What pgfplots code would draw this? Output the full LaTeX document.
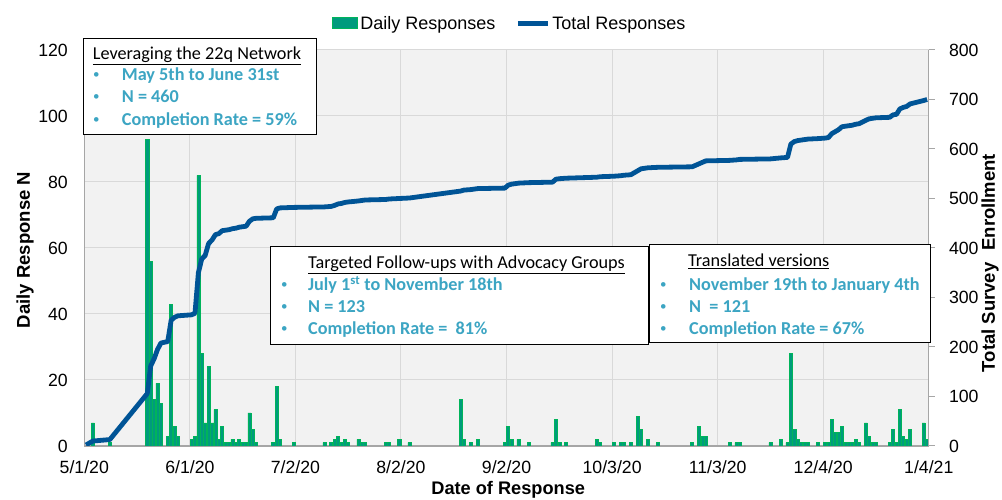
\documentclass[border=0pt]{standalone}
\usepackage{fontspec}
\setmainfont{Liberation Sans}
\newfontfamily\boxfont{Carlito}
\usepackage{pgfplots}
\usepackage{pgfplotstable}
\pgfplotsset{compat=1.18}

\definecolor{barfill}{RGB}{0,155,125}
\definecolor{baredge}{RGB}{0,180,90}
\definecolor{totalblue}{RGB}{0,84,150}
\definecolor{plotbg}{RGB}{242,242,242}
\definecolor{gridgray}{RGB}{217,217,217}
\definecolor{axisgray}{RGB}{166,166,166}
\definecolor{bulletcol}{RGB}{60,165,195}

\pgfplotsset{
  barlegend/.style={legend image code/.code={\draw[##1] (0pt,-5pt) rectangle (25pt,6pt);}},
  linelegend/.style={legend image code/.code={\draw[##1] (0pt,0pt) -- (30pt,0pt);}},
}

% day 0 = 5/1/20
\pgfplotstableread{
d n
2 7
7 1
18 93
19 56
20 14
21 19
22 13
24 3
25 43
26 6
27 3
31 2
32 3
33 82
34 28
35 7
36 24
37 7
38 11
39 2
40 6
41 1
42 1
43 2
44 1
45 2
46 1
47 1
48 10
49 5
50 1
55 1
56 18
57 2
61 1
70 1
72 1
73 2
74 3
75 1
76 2
77 1
80 2
81 1
82 1
88 1
89 1
92 2
95 1
110 14
111 2
113 1
115 2
123 1
124 6
125 2
127 2
130 1
137 1
138 8
139 1
141 1
150 2
151 1
155 1
157 1
158 1
160 1
162 9
163 5
165 2
168 1
178 1
180 6
181 3
182 3
189 1
191 1
192 1
201 1
204 2
206 1
207 28
208 5
209 2
210 1
211 1
212 1
215 1
217 1
218 1
219 8
220 4
221 4
222 6
223 1
224 1
225 1
226 2
227 1
229 7
230 3
231 1
232 1
236 1
237 5
238 1
239 11
240 3
241 2
242 5
246 7
247 2
}\daily

\pgfplotstableread{
d total
0 2
2 10
7 13
18 106
19 162
20 176
21 195
22 208
24 211
25 254
26 260
27 263
31 265
32 268
33 350
34 378
35 385
36 409
37 416
38 427
39 429
40 435
41 436
42 437
43 439
44 440
45 442
46 443
47 444
48 454
49 459
50 460
55 461
56 479
57 481
61 482
70 483
72 484
73 486
74 489
75 490
76 492
77 493
80 495
81 496
82 497
88 498
89 499
92 500
95 501
110 515
111 517
113 518
115 520
123 521
124 527
125 529
127 531
130 532
137 533
138 539
139 540
141 541
150 543
151 544
155 545
157 546
158 547
160 548
162 556
163 560
165 562
168 563
178 564
180 570
181 573
182 576
189 577
191 578
192 579
201 580
204 582
206 583
207 610
208 615
209 617
210 618
211 619
212 620
215 621
217 622
218 623
219 631
220 635
221 639
222 645
223 646
224 647
225 648
226 650
227 651
229 658
230 661
231 662
232 663
236 664
237 669
238 670
239 681
240 684
241 686
242 691
246 698
247 700
}\total

\begin{document}
\begin{tikzpicture}[x=1pt,y=1pt]
\pgfplotsset{
  base/.style={
    at={(0,0)}, anchor=south west,
    width=844.5pt, height=396pt, scale only axis,
    xmin=-0.5, xmax=247.5,
    /pgf/number format/assume math mode=true,
    ticklabel style={font=\fontsize{17.7}{21}\selectfont, inner sep=0pt},
    axis line style={axisgray, line width=1.2pt},
  }
}
\begin{axis}[base,
  ymin=0, ymax=120,
  axis background/.style={fill=plotbg},
  axis y line*=left, axis x line*=bottom,
  xtick={-0.5,30.5,61.5,92.5,123.5,154.5,185.5,216.5,247.5},
  xticklabels={5/1/20,6/1/20,7/2/20,8/2/20,9/2/20,10/3/20,11/3/20,12/4/20,1/4/21},
  ytick={0,20,...,120},
  xmajorgrids, ymajorgrids, grid style={gridgray, line width=1pt},
  xtick style={draw=none},
  ytick style={draw=none},
  xticklabel style={anchor=base, yshift=-27.5pt},
  yticklabel style={anchor=east, xshift=-16.3pt},
  every axis x label/.style={at={(axis description cs:0.502,-0.111)}, anchor=center,
    font=\bfseries\fontsize{18.2}{22}\selectfont},
  every axis y label/.style={at={(axis description cs:-0.0702,0.495)}, rotate=90, anchor=center,
    font=\bfseries\fontsize{18.5}{22}\selectfont},
  xlabel={Date of Response},
  ylabel={Daily Response N},
]
\addplot[ybar, bar width=0.9, fill=barfill, draw=baredge, line width=0.6pt] table[x=d, y=n] {\daily};
\end{axis}

\begin{axis}[base,
  ymin=0, ymax=800,
  axis y line*=right, axis x line=none,
  ytick={0,100,...,800},
  ytick style={axisgray, line width=1pt},
  tick align=outside, major tick length=6pt,
  yticklabel style={anchor=west, xshift=14pt},
  every axis y label/.style={at={(axis description cs:1.0725,0.462)}, rotate=90, anchor=center,
    font=\bfseries\fontsize{18.5}{22}\selectfont},
  ylabel={Total Survey\hspace{12pt}Enrollment},
  legend columns=2,
  legend style={at={(axis description cs:0.504,1.067)}, anchor=center, draw=none, fill=none,
    font=\fontsize{18}{22}\selectfont,
    /tikz/every even column/.append style={column sep=18pt}},
]
\addlegendimage{area legend, fill=barfill, draw=baredge, line width=1pt, barlegend}
\addlegendentry{Daily Responses}
\addplot[totalblue, line width=4.8pt, line join=round, linelegend] table[x=d, y=total] {\total};
\addlegendentry{Total Responses}
\end{axis}

% annotation boxes (1 unit = 1 px of the reference)
\begin{scope}[shift={(-84.3,446)}, yscale=-1]
  \draw[black, line width=1pt, fill=white] (83.3,38.3) rectangle (316.7,135);
  \draw[black, line width=1pt, fill=white] (270,246.7) rectangle (648,345);
  \draw[black, line width=1pt, fill=white] (649,245) rectangle (930,343);
\end{scope}
\begin{scope}[shift={(-84.3,446)}]
  \tikzset{t/.style={anchor=base west, inner sep=0pt, font=\boxfont\fontsize{18.2}{22}\selectfont},
           b/.style={t, text=bulletcol, font=\boxfont\bfseries\fontsize{18.2}{22}\selectfont},
           d/.style={anchor=west, inner sep=0pt, text=bulletcol, font=\boxfont\fontsize{13}{15}\selectfont}}
  % box 1
  \node[t] at (92.7,-60) {\underline{Leveraging the 22q Network}};
  \node[d] at (93,-76) {•}; \node[b] at (121.7,-81) {May 5th to June 31st};
  \node[d] at (93,-97.7) {•}; \node[b] at (121.7,-102.7) {N = 460};
  \node[d] at (93,-120.3) {•}; \node[b] at (121.7,-125.3) {Completion Rate = 59\%};
  % box 2
  \node[t] at (308,-269) {\underline{Targeted Follow-ups with Advocacy Groups}};
  \node[d] at (281,-286) {•}; \node[b] at (308,-291) {July 1\textsuperscript{st} to November 18th};
  \node[d] at (281,-308) {•}; \node[b] at (308,-313) {N = 123};
  \node[d] at (281,-330) {•}; \node[b] at (308,-335) {Completion Rate =\ \ 81\%};
  % box 3
  \node[t] at (688,-266.7) {\underline{Translated versions}};
  \node[d] at (660,-286) {•}; \node[b] at (689,-291) {November 19th to January 4th};
  \node[d] at (660,-307.7) {•}; \node[b] at (689,-312.7) {N\ \ = 121};
  \node[d] at (660,-330) {•}; \node[b] at (689,-335) {Completion Rate = 67\%};
\end{scope}

\pgfresetboundingbox
\path[use as bounding box] (-84.3,-54) rectangle (917.7,446);
\end{tikzpicture}
\end{document}
